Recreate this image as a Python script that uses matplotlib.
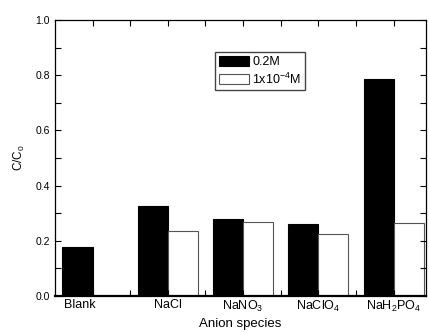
import numpy as np
import matplotlib
matplotlib.use('Agg')
import matplotlib.pyplot as plt
import matplotlib.transforms as mtransforms

plt.rcParams['font.family'] = ['Liberation Sans', 'DejaVu Sans']
plt.rcParams['mathtext.fontset'] = 'custom'
plt.rcParams['mathtext.rm'] = 'Liberation Sans'

# data
species = ['Blank', 'NaCl', r'NaNO$_3$', r'NaClO$_4$', r'NaH$_2$PO$_4$']
high_conc = [0.176, 0.326, 0.278, 0.260, 0.787]   # 0.2M
low_conc = [0.0, 0.237, 0.267, 0.226, 0.266]      # 1x10^-4 M (no bar for Blank)

x = np.arange(1, len(species) + 1)
w = 0.4

fig = plt.figure(figsize=(4.29, 3.33), dpi=100)
ax = fig.add_axes([0.128, 0.111, 0.865, 0.829])

ax.bar(x, high_conc, width=-w, align='edge', color='black', edgecolor='black',
       linewidth=0.8, label='0.2M')
ax.bar(x[1:], low_conc[1:], width=w, align='edge', color='white', edgecolor='#555555',
       linewidth=0.8, label=r'1x10$^{-4}$M')

ax.set_xlim(0.5, 5.43)
ax.set_ylim(0, 1.0)
ax.set_xticks(x)
ax.set_xticklabels(species)
ax.set_xticks(x[:-1] + 0.5, minor=True)
ax.set_yticks([0.0, 0.2, 0.4, 0.6, 0.8, 1.0])
ax.set_yticks([0.1, 0.3, 0.5, 0.7, 0.9], minor=True)
ax.tick_params(axis='both', which='both', direction='in', top=True, right=True,
               length=4, width=0.8, labelsize=7.5)
ax.tick_params(axis='x', labelsize=9, pad=2)

# Blank label sits a bit left of its tick in the original
lbl = ax.get_xticklabels()[0]
lbl.set_transform(lbl.get_transform() + mtransforms.ScaledTranslation(-13 / 100, 0, fig.dpi_scale_trans))

for s in ax.spines.values():
    s.set_linewidth(0.9)
ax.spines['bottom'].set_linewidth(1.6)

ax.set_xlabel('Anion species', fontsize=9.5, labelpad=3)
ax.set_ylabel(r'C/C$_0$', fontsize=8.5, labelpad=6)

ax.legend(loc='upper left', bbox_to_anchor=(0.431, 0.884), fontsize=9, frameon=True,
          fancybox=False, edgecolor='#444444', framealpha=1, handlelength=2.4,
          handleheight=0.9, borderpad=0.3, labelspacing=0.25, handletextpad=0.3,
          borderaxespad=0)

fig.savefig('out.png', dpi=100)
